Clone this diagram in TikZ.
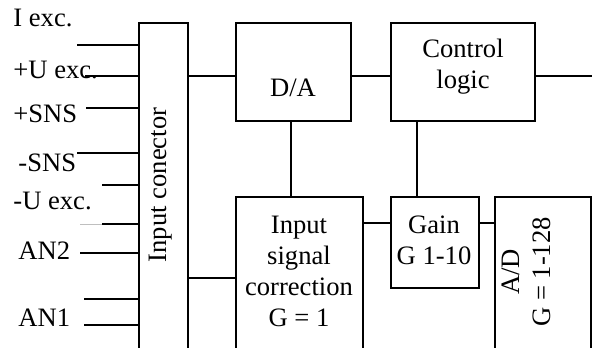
\documentclass[tikz,border=0pt]{standalone}
\usepackage{fontspec}
\setmainfont{Liberation Serif}
\usetikzlibrary{positioning}
\tikzset{
	blk/.style={draw, line width=0.7pt, inner sep=0pt, outer sep=0pt}, % Block outline
	lbl/.style={inner sep=0pt, font=\fontsize{13.3}{15.5}\selectfont}, % Text
	wire/.style={line width=0.7pt} % Connections
}

\begin{document}
\begin{tikzpicture}[x=0.5pt, y=-0.5pt]
		\useasboundingbox (0,0) rectangle (592,347);
		\clip (0,0) rectangle (592,347);
		% Blocks
		\node [blk, minimum width=24.5pt, minimum height=188.5pt] (conn) at (163.5,211.5) {};
		\node [blk, minimum width=57.5pt, minimum height=49pt] (da) at (293.5,72) {};
		\node [blk, minimum width=72pt, minimum height=49pt] (ctl) at (463,72) {};
		\node [blk, minimum width=63.5pt, minimum height=111.5pt] (isc) at (299.5,308.5) {};
		\node [blk, minimum width=44pt, minimum height=45.5pt] (gain) at (435,242.5) {};
		\node [blk, minimum width=48pt, minimum height=111.5pt] (ad) at (543,308.5) {};
		% Block texts
		\node [lbl, rotate=90] (conntext) at (161,185) {Input conector};
		\node [lbl] (datext) at (293,88) {D/A};
		\node [lbl, align=center] (ctltext) at (463,67) {Control\\logic};
		\node [lbl, align=center] (isctext) at (299,271) {Input\\signal\\correction\\G = 1};
		\node [lbl, align=center] (gaintext) at (434,240) {Gain\\G 1-10};
		\node [lbl, align=center, rotate=90] (adtext) at (526,272) {A/D\\G = 1-128};
		% Input lines
		\foreach \y/\x [count=\i] in {45/77, 76/85, 108/86, 153/77, 185/102, 224/102, 253/80, 299/84, 325/84} {
			\coordinate (in\i) at (\x,\y);
			\draw [wire] (in\i) -- (in\i -| conn.west);
		}
		\coordinate (stub) at (80,224);
		\draw [gray!50, thin] (stub) -- (in6);
		% Input labels
		\foreach \t/\x/\y [count=\i] in {I exc./13/27, +U exc./13/79, +SNS/13/123, -SNS/18/171, -U exc./13/209, AN2/18/259, AN1/18/326}
			\node [lbl, anchor=base west] (pin\i) at (\x,\y) {\t};
		% Connections
		\coordinate (rowa) at (0,76);
		\coordinate (rowb) at (0,223);
		\coordinate (rowc) at (0,278);
		\coordinate (cola) at (291,0);
		\coordinate (colb) at (417,0);
		\coordinate (out) at (592,76);
		\draw [wire] (conn.east |- rowa) -- (da.west |- rowa);
		\draw [wire] (da.east |- rowa) -- (ctl.west |- rowa);
		\draw [wire] (ctl.east |- rowa) -- (out);
		\draw [wire] (cola |- da.south) -- (cola |- isc.north);
		\draw [wire] (colb |- ctl.south) -- (colb |- gain.north);
		\draw [wire] (isc.east |- rowb) -- (gain.west |- rowb);
		\draw [wire] (gain.east |- rowb) -- (ad.west |- rowb);
		\draw [wire] (conn.east |- rowc) -- (isc.west |- rowc);
\end{tikzpicture}
\end{document}
